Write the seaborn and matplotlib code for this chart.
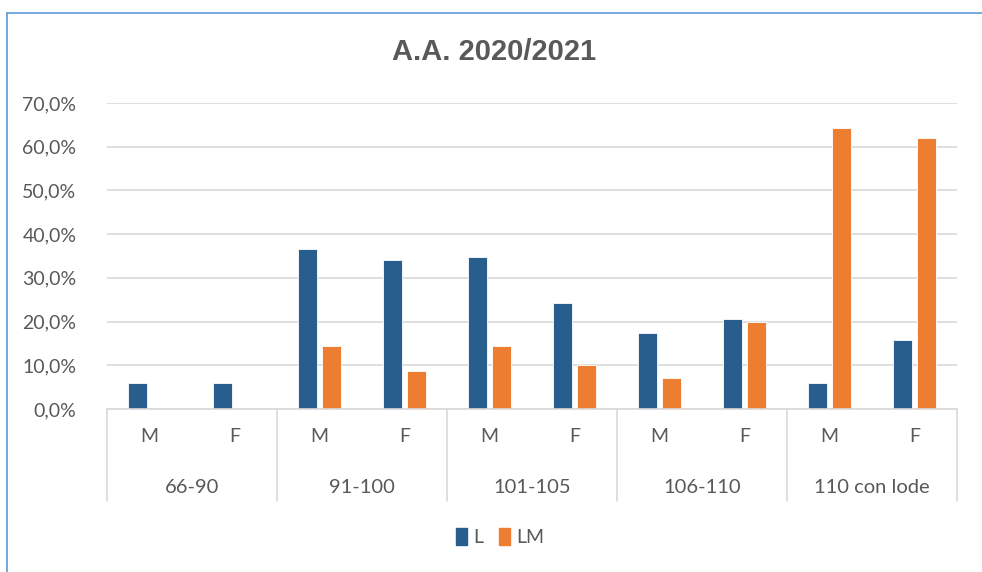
import matplotlib
matplotlib.use("Agg")
import matplotlib.pyplot as plt
import matplotlib.lines as mlines
import matplotlib.patches as mpatches
from matplotlib.ticker import FuncFormatter, MultipleLocator
import seaborn as sns
import pandas as pd

# ---- data ----
groups = ["66-90", "91-100", "101-105", "106-110", "110 con lode"]
sexes = ["M", "F"]
series = ["L", "LM"]
L_values = [5.9, 5.9, 36.6, 34.1, 34.7, 24.2, 17.5, 20.5, 5.9, 15.7]
LM_values = [0.0, 0.0, 14.4, 8.6, 14.4, 10.0, 7.2, 19.8, 64.3, 62.0]
title = "A.A. 2020/2021"

colors = {"L": "#285E8E", "LM": "#ED7D31"}
text_color = "#595959"
grid_color = "#D9D9D9"

# ---- build table ----
rows = []
i = 0
for g in groups:
    for s in sexes:
        key = f"{g}|{s}"
        rows.append({"cat": key, "sex": s, "group": g, "series": "L", "value": L_values[i] / 100})
        rows.append({"cat": key, "sex": s, "group": g, "series": "LM", "value": LM_values[i] / 100})
        i += 1
df = pd.DataFrame(rows)
order = [f"{g}|{s}" for g in groups for s in sexes]

sns.set_theme(style="white")
plt.rcParams["font.family"] = ["Lato", "DejaVu Sans"]

fig = plt.figure(figsize=(9.82, 5.72), dpi=100)
ax = fig.add_axes([107 / 982, 1 - 409 / 572, 850 / 982, 306 / 572])

sns.barplot(data=df, x="cat", y="value", hue="series", order=order,
            hue_order=series, palette=colors, saturation=1, width=0.56, gap=0.2,
            edgecolor="white", linewidth=0.6, ax=ax, legend=False)

ax.set_ylim(0, 0.7)
ax.set_xlim(-0.5, len(order) - 0.5)
ax.yaxis.set_major_locator(MultipleLocator(0.1))
ax.yaxis.set_major_formatter(FuncFormatter(lambda v, p: f"{v*100:.1f}%".replace(".", ",")))
ax.grid(axis="y", color=grid_color, linewidth=1.2)
ax.set_axisbelow(True)
for sp in ["top", "right", "left"]:
    ax.spines[sp].set_visible(False)
ax.spines["bottom"].set_color(grid_color)
ax.spines["bottom"].set_linewidth(1.2)
ax.set_xlabel("")
ax.set_ylabel("")
ax.tick_params(axis="y", length=0, labelsize=14, labelcolor=text_color, pad=22)
ax.tick_params(axis="x", length=0, labelsize=14, labelcolor=text_color, pad=14)
ax.set_xticks(range(len(order)))
ax.set_xticklabels([c.split("|")[1] for c in order])

# group labels and separators
trans = ax.get_xaxis_transform()
for k, g in enumerate(groups):
    ax.text(2 * k + 0.5, -0.255, g, transform=trans, ha="center", va="center",
            fontsize=14.5, color=text_color)
for k in range(len(groups) + 1):
    x = 2 * k - 0.5
    ax.plot([x, x], [0, -0.30], transform=trans, color=grid_color,
            linewidth=1.2, clip_on=False)

fig.text(494 / 982, 1 - 52 / 572, title, ha="center", va="center",
         fontsize=21, fontweight="bold", color=text_color,
         family=["Liberation Sans", "DejaVu Sans"])

handles = [mpatches.Patch(color=colors[s], label=s) for s in series]
leg = fig.legend(handles=handles, loc="center", bbox_to_anchor=(500 / 982, 1 - 537 / 572),
                 ncol=2, frameon=False, handlelength=0.6, handleheight=1.0,
                 handletextpad=0.3, columnspacing=0.8, fontsize=14)
for t in leg.get_texts():
    t.set_color(text_color)

# outer border (left and top)
border = "#5B9BD5"
fig.add_artist(mlines.Line2D([7 / 982, 7 / 982], [0, 1 - 13 / 572], color=border,
                             linewidth=1.2, transform=fig.transFigure))
fig.add_artist(mlines.Line2D([7 / 982, 1], [1 - 13 / 572, 1 - 13 / 572], color=border,
                             linewidth=1.2, transform=fig.transFigure))

fig.savefig("out.png", dpi=100)
